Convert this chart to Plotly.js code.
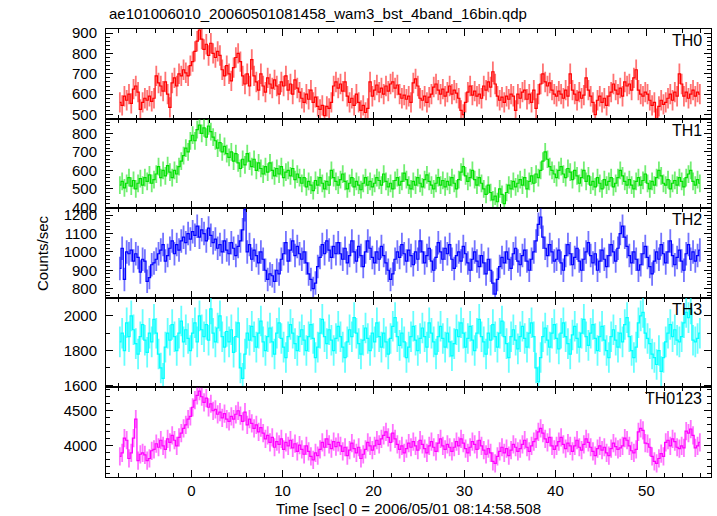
<!DOCTYPE html>
<html><head><meta charset="utf-8">
<script src="https://cdn.plot.ly/plotly-3.0.1.min.js"></script>
<style>html,body{margin:0;padding:0;background:#fff}</style></head>
<body><div id="chart" style="width:717px;height:516px"></div>
<script>
const binStart = -7.875, binWidth = 0.25;
const panelNames = ['TH0','TH1','TH2','TH3','TH0123'];
const th0 = [
560,545,590,570,600,555,625,640,610,525,560,580,570,590,565,580,
690,655,640,615,660,600,535,655,680,640,700,690,720,705,690,740,
760,810,860,915,870,820,845,790,850,800,780,810,790,720,690,740,
700,665,730,780,800,760,690,650,700,640,770,690,660,620,700,640,
610,680,650,630,670,640,600,660,640,690,620,650,600,670,630,610,
580,560,600,575,620,560,585,540,525,545,495,540,530,560,640,660,
630,650,615,660,590,560,580,545,600,560,520,545,510,530,660,590,
620,645,610,630,600,640,615,650,660,630,645,600,580,595,575,590,
560,655,675,640,580,570,590,560,585,600,635,650,620,600,625,590,
610,640,600,620,605,580,520,500,560,610,640,595,615,590,600,580,
640,620,660,635,710,650,590,570,585,560,590,575,600,590,520,600,
580,610,620,575,600,560,620,530,600,650,700,660,640,655,620,600,
590,615,600,580,620,590,700,620,600,570,610,580,595,680,620,590,
560,500,570,590,560,580,545,590,610,650,620,600,630,590,660,640,
650,620,680,720,620,600,590,610,600,570,545,560,480,540,570,550,
560,580,600,570,610,590,700,650,590,610,580,600,620,590,610,600];
const th1 = [
520,540,505,530,560,515,545,500,530,555,520,560,540,575,530,550,
580,620,560,600,570,625,590,560,600,580,620,650,680,720,700,760,
790,760,820,845,800,830,780,840,810,780,760,720,750,700,730,690,
670,700,650,690,640,610,660,630,690,650,620,660,600,640,610,580,
620,590,640,600,570,610,580,620,560,590,600,570,610,550,580,560,
530,560,510,540,520,490,545,520,560,530,500,540,520,600,560,540,
520,550,580,540,500,530,560,510,540,520,495,530,560,520,540,510,
530,560,545,520,580,540,510,530,500,545,560,520,540,585,550,520,
500,540,520,560,530,510,550,575,540,520,500,530,560,520,545,510,
540,520,560,530,500,550,590,620,570,540,560,600,550,520,560,530,
500,470,520,480,440,460,430,500,470,420,480,520,500,540,510,530,
550,520,560,500,540,570,530,580,560,600,650,700,660,620,600,580,
560,600,620,580,560,610,590,550,600,570,530,560,600,540,570,520,
540,510,560,530,500,550,520,540,560,510,530,560,600,570,540,520,
550,520,500,540,560,520,545,580,530,500,540,520,560,600,570,530,
520,550,500,530,545,520,560,540,510,560,580,600,540,520,550,530];
const th2 = [
910,1020,850,1000,990,1010,950,990,970,890,960,950,840,860,930,940,
960,990,1010,1040,950,980,1020,1060,990,1040,1010,1060,1080,1050,1100,1070,
1110,1090,1140,1080,1120,1100,1060,1130,1090,1050,1070,1020,1040,1000,1060,1010,
990,1050,1020,980,1030,1060,1120,1230,1000,1040,960,1010,980,940,1000,960,
900,850,880,870,840,900,880,960,990,1050,950,1010,1060,980,1030,990,
960,1000,940,880,850,800,830,920,970,1040,990,1060,1010,970,1030,990,
1050,990,960,1020,940,980,1060,1000,950,1030,980,920,1000,1060,1020,970,
940,1000,960,1030,980,940,900,850,880,960,1000,970,1040,990,950,1010,
980,930,1000,960,1060,1000,940,980,1020,950,900,970,1050,1000,960,1020,
990,1040,960,910,980,1000,950,1030,990,940,900,960,1000,950,920,980,
940,880,960,900,830,770,850,920,970,940,1000,960,910,990,1020,950,
930,980,1010,950,900,960,1000,1060,1150,1190,1080,1020,980,1040,1000,950,
960,1010,940,900,980,1040,990,930,970,1020,950,900,960,1000,1050,980,
940,990,900,950,1010,960,920,980,1040,1000,950,1020,1100,1140,1080,1030,
980,940,1000,960,900,930,990,1030,970,920,880,950,1000,960,1040,990,
940,1000,1060,980,930,970,1010,950,900,990,1040,960,1000,950,980,1010];
const th3 = [
1850,1900,1800,1960,1880,2000,1920,1840,1780,1880,1950,1860,1790,1900,1850,1980,
1900,1780,1700,1640,1820,1900,1860,1950,1880,1800,1900,1970,1850,1920,1870,1800,
1900,1960,1850,2000,1920,1880,1950,1860,2040,1900,1850,1930,2000,1880,1820,1910,
1850,1920,1790,1880,1960,1700,1640,1780,1900,1860,1940,1880,1820,1900,1970,1850,
1800,1880,1930,1850,1780,1900,1960,1870,1820,1760,1880,1950,1900,1840,1800,1880,
1920,1860,1800,1880,1950,1870,1760,1820,1900,1980,1880,1840,1920,1860,1800,1870,
1940,1880,1820,1760,1850,1920,1880,1990,1900,1840,1780,1860,1930,1870,1800,1900,
1850,1960,1880,1820,1900,1850,1780,1870,1940,1990,1880,1830,1900,1850,1760,1820,
1880,1940,1860,1800,1870,1930,1880,1820,1960,1900,1850,1780,1880,1940,1870,1820,
1900,1850,1770,1840,1920,1880,1960,1900,1820,1870,1940,1860,1800,1900,1980,1880,
1850,1780,1900,1860,1950,1880,1820,1900,1970,1880,1840,1760,1880,1920,1860,1810,
1880,1940,1870,1820,1900,1960,1880,1700,1620,1760,1880,1930,1860,1820,1900,1950,
1870,1810,1900,1960,1880,1840,1780,1890,1940,1870,1820,1900,1980,1880,1830,1900,
1950,1870,1800,1880,1940,1860,1800,1760,1880,1920,1860,1820,1900,1850,1950,1990,
1880,1800,1760,1820,1960,2000,2020,1900,1870,1840,1780,1760,1720,1800,1680,1760,
1850,1900,1950,1880,1920,1860,1850,1880,1960,2020,1990,2040,1860,1850,1870,1900];
const th0123 = [
3850,3900,4110,4080,3820,3900,4110,4380,3790,3880,3900,3870,3790,3820,3930,3950,
4030,3980,4080,4000,3950,4100,4050,4150,4080,4000,4120,4180,4250,4300,4380,4420,
4550,4650,4720,4780,4700,4620,4680,4550,4600,4500,4520,4450,4480,4400,4460,4380,
4350,4420,4380,4450,4500,4430,4350,4480,4300,4380,4320,4250,4300,4200,4260,4180,
4100,4150,4050,4120,3980,4060,4020,4100,3950,4050,4000,4080,3970,4030,3920,4010,
3950,3880,4000,3920,3850,3800,3900,3860,3950,4050,3980,4100,4020,3960,4060,3990,
4050,4000,3920,3980,3860,3940,4040,3960,3900,3980,3820,3880,3950,4050,4000,3940,
4000,4080,4020,4100,4150,4200,4120,4050,4180,4100,4020,3950,4000,3900,3960,4040,
3980,4060,4000,3940,4080,4020,3960,3900,4000,4060,3980,3920,4040,4100,4000,3950,
4020,3980,3920,3980,4060,4000,4100,4040,3960,3900,3980,4060,4020,3950,4080,4000,
3940,3880,3960,3900,3780,3750,3850,3920,3980,3900,3960,3860,3940,4020,3980,3920,
3960,4020,4080,3980,3920,4000,4060,4100,4200,4250,4180,4100,4050,4120,4000,3950,
4000,4060,4120,4020,3960,4040,4000,3920,4000,4080,3980,3940,4020,4100,4050,3980,
3920,3860,3960,4000,3940,3980,3900,3860,3960,4040,3990,3950,3970,4000,4110,4080,
4000,3930,3900,3950,4200,4250,4220,4040,4030,3980,3850,3780,3750,3820,3890,3850,
4050,4080,4000,4100,4060,3980,3960,4000,3970,4210,4180,4240,4150,3970,4000,4050];
const seriesList = [th0, th1, th2, th3, th0123];
const errValues = [50, 48, 64, 88, 130];
const colors = ['#ff0000', '#00e000', '#0000ff', '#00ffff', '#ff00ff'];
const errColors = ['rgba(255,0,0,0.55)', 'rgba(0,224,0,0.55)', 'rgba(0,0,255,0.55)', 'rgba(0,255,255,0.6)', 'rgba(255,0,255,0.55)'];
const yRanges = [[480,920],[395,880],[750,1238],[1588,2104],[3556,4833]];
const yDticks = [100,100,100,200,500];
const yMinor = [20,20,20,100,100];
const titleText = 'ae101006010_20060501081458_wam3_bst_4band_16bin.qdp';
const xTitleText = 'Time [sec] 0 = 2006/05/01 08:14:58.508';

const times = th0.map((_, i) => binStart + i * binWidth);
const FONT = 'Liberation Sans, Arial, Helvetica, sans-serif';
const traces = [];
const layout = {
  width: 717, height: 516,
  margin: {l: 106, r: 6, t: 29, b: 39},
  paper_bgcolor: '#fff', plot_bgcolor: '#fff',
  showlegend: false,
  font: {family: FONT, size: 15, color: '#000'},
  annotations: []
};
for (let i = 0; i < 5; i++) {
  const k = i + 1;
  const xn = k === 1 ? 'x' : 'x' + k, yn = k === 1 ? 'y' : 'y' + k;
  const xk = k === 1 ? 'xaxis' : 'xaxis' + k, yk = k === 1 ? 'yaxis' : 'yaxis' + k;
  traces.push({
    x: times, y: seriesList[i], xaxis: xn, yaxis: yn,
    type: 'scatter', mode: 'lines',
    line: {shape: 'hvh', width: 1.2, color: colors[i]},
    error_y: {type: 'constant', value: errValues[i], color: errColors[i], thickness: 1.8, width: 0},
    hoverinfo: 'none'
  });
  const dom = [(4 - i) * 0.2, (5 - i) * 0.2];
  layout[xk] = {
    anchor: yn, domain: [0, 1], range: [-9.4, 57.1],
    tick0: 0, dtick: 10, ticks: 'inside', ticklen: 7, tickcolor: '#000', tickwidth: 1,
    minor: {dtick: 2, tick0: 0, ticks: 'inside', ticklen: 4, tickcolor: '#000', showgrid: false},
    showline: true, linecolor: '#000', linewidth: 1, mirror: 'ticks',
    showgrid: false, zeroline: false, showticklabels: i === 4,
    tickfont: {family: FONT, size: 15, color: '#000'}
  };
  if (i > 0) layout[xk].matches = 'x';
  layout[yk] = {
    anchor: xn, domain: dom, range: yRanges[i],
    dtick: yDticks[i], tick0: 0, ticks: 'inside', ticklen: 7, tickcolor: '#000',
    minor: {dtick: yMinor[i], tick0: 0, ticks: 'inside', ticklen: 4, tickcolor: '#000', showgrid: false},
    showline: true, linecolor: '#000', linewidth: 1, mirror: 'ticks',
    showgrid: false, zeroline: false, ticklabelstandoff: 5,
    tickfont: {family: FONT, size: 15, color: '#000'}
  };
  layout.annotations.push({
    text: panelNames[i], xref: 'paper', yref: 'paper', x: 1, y: dom[1],
    xanchor: 'right', yanchor: 'top', xshift: -7, yshift: -1, showarrow: false,
    font: {family: FONT, size: 16, color: '#000'}
  });
}
layout.annotations.push({
  text: titleText, xref: 'paper', yref: 'paper', x: 0, y: 1, xanchor: 'left', yanchor: 'bottom',
  xshift: 1, yshift: 5, showarrow: false, font: {family: FONT, size: 15, color: '#000'}
});
layout.annotations.push({
  text: xTitleText, xref: 'paper', yref: 'paper', x: 0.5, y: 0, xanchor: 'center', yanchor: 'top',
  yshift: -21, showarrow: false, font: {family: FONT, size: 15, color: '#000'}
});
layout.annotations.push({
  text: 'Counts/sec', xref: 'paper', yref: 'paper', x: 0, y: 0.5, xanchor: 'center', yanchor: 'middle',
  xshift: -64, textangle: -90, showarrow: false, font: {family: FONT, size: 15, color: '#000'}
});
Plotly.newPlot('chart', traces, layout, {staticPlot: true, displayModeBar: false});
</script></body></html>
